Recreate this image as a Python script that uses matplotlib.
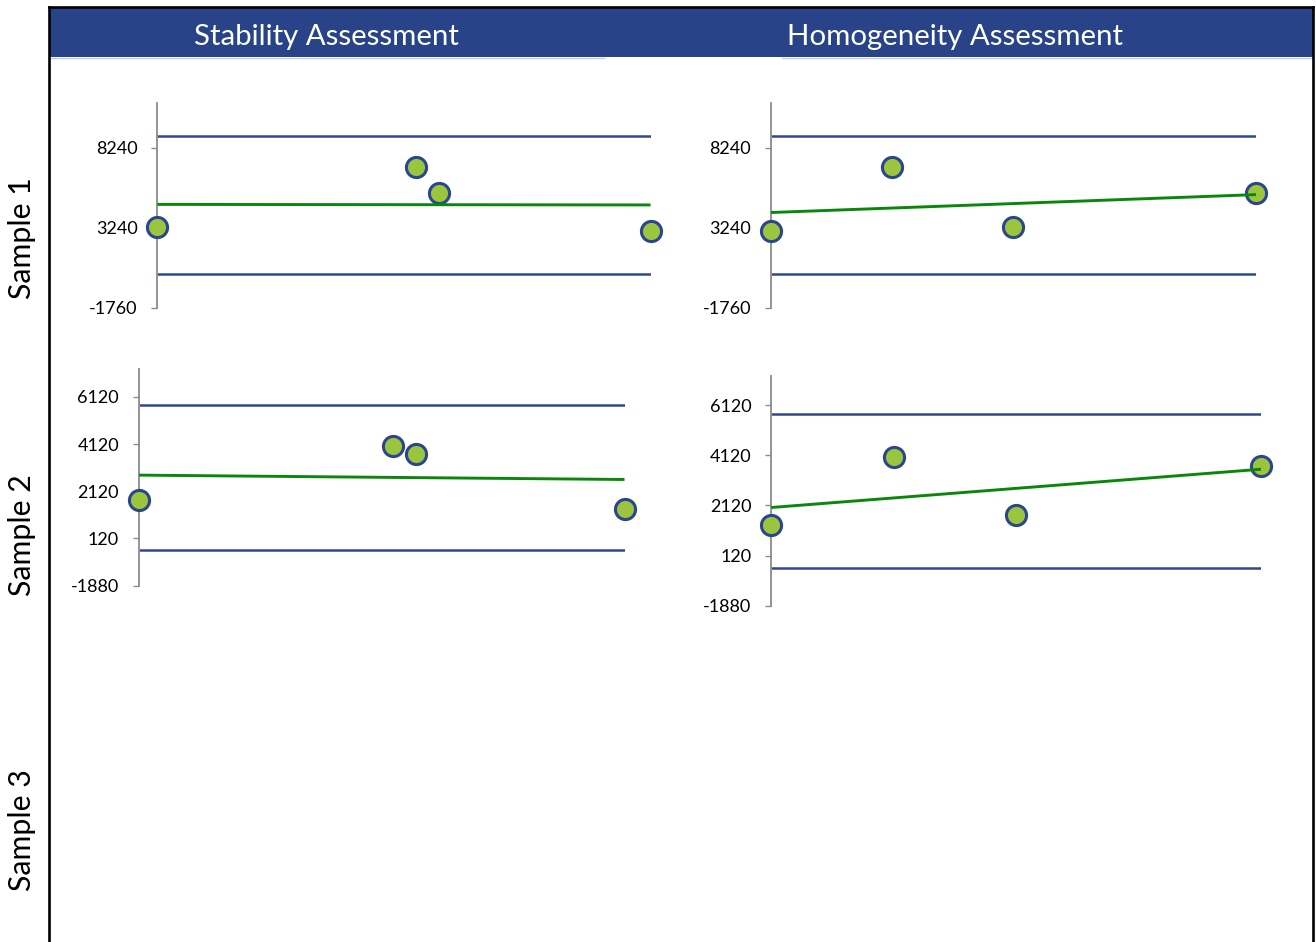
import matplotlib
matplotlib.use("Agg")
import matplotlib.pyplot as plt
import numpy as np
from matplotlib.lines import Line2D
from matplotlib.patches import Rectangle

# ---- data -------------------------------------------------------------
stability_x = [0, 11, 12, 21]
homogeneity_x = [0, 3, 6, 12]

sample1_stability = [3270, 7010, 5410, 3020]
sample1_homogeneity = [3020, 7010, 3270, 5410]
sample2_stability = [1745, 4035, 3690, 1355]
sample2_homogeneity = [1355, 4035, 1745, 3690]

sample1_limits = [360, 8960]      # lower, upper
sample2_limits = [-370, 5770]

sample1_ticks = [-1760, 3240, 8240]
sample2_ticks = [-1880, 120, 2120, 4120, 6120]
sample1_range = [-1760, 11050]
sample2_range = [-1880, 7285]

column_titles = ["Stability Assessment", "Homogeneity Assessment"]
row_titles = ["Sample 1", "Sample 2", "Sample 3"]

# ---- style ------------------------------------------------------------
NAVY = "#284387"
LIMIT = "#2c4992"
TREND = "#0a870a"
FILL = "#9bc53d"
EDGE = "#2b4590"
AXIS = "#8c8c8c"
FONT = "Lato"

W, H = 1316, 942
fig = plt.figure(figsize=(W / 100, H / 100), dpi=100)
fig.patch.set_facecolor("white")


def rect(l, t, r, b):
    return [l / W, 1 - b / H, (r - l) / W, (b - t) / H]


def fy(y):
    return 1 - y / H


# header band and frame
fig.patches.append(Rectangle((50 / W, fy(57)), (1313 - 50) / W, (57 - 8.3) / H,
                             transform=fig.transFigure, facecolor=NAVY,
                             edgecolor="none", zorder=1))
for x0, x1 in [(50, 604), (782, 1312)]:
    fig.lines.append(Line2D([x0 / W, x1 / W], [fy(57.6)] * 2, color="#c3cde2",
                            lw=1, transform=fig.transFigure))
frame = dict(color="black", lw=1.9, transform=fig.transFigure, zorder=5)
fig.lines.append(Line2D([49.3 / W, 1313 / W], [fy(7)] * 2, **frame))
fig.lines.append(Line2D([49.3 / W] * 2, [fy(7), 0], **frame))
fig.lines.append(Line2D([1313 / W] * 2, [fy(7), 0], **frame))

fig.text(326 / W, fy(45), column_titles[0], color="white", fontsize=21.2,
         family=FONT, ha="center", va="baseline")
fig.text(955 / W, fy(45), column_titles[1], color="white", fontsize=21.2,
         family=FONT, ha="center", va="baseline")

for label, yc in zip(row_titles, [238.5, 535, 830.5]):
    fig.text(22.5 / W, fy(yc), label, rotation=90, fontsize=21.8, family=FONT,
             ha="center", va="center", color="black")


def panel(box, x, y, limits, yrange, ticks):
    ax = fig.add_axes(box)
    ax.patch.set_visible(False)
    ax.set_xlim(x[0], x[-1])
    ax.set_ylim(*yrange)
    for side in ["top", "right", "bottom"]:
        ax.spines[side].set_visible(False)
    ax.spines["left"].set_color(AXIS)
    ax.spines["left"].set_linewidth(1.3)
    ax.set_xticks([])
    ax.set_yticks(ticks)
    ax.set_yticklabels([str(t) for t in ticks], family=FONT, fontsize=13)
    ax.tick_params(axis="y", length=4.3, width=1, color=AXIS, pad=10)

    ends = [x[0], x[-1]]
    for level in limits:
        ax.plot(ends, [level, level], color=LIMIT, lw=1.8,
                solid_capstyle="butt", zorder=2)
    coef = np.polyfit(x, y, 1)
    ax.plot(ends, np.polyval(coef, ends), color=TREND, lw=2.1,
            solid_capstyle="butt", zorder=4)
    ax.plot(x, y, "o", ms=14.5, mfc=FILL, mec=EDGE, mew=2.2,
            clip_on=False, zorder=3)
    return ax


panel(rect(157.4, 102.7, 650.5, 307.7), stability_x, sample1_stability,
      sample1_limits, sample1_range, sample1_ticks)
panel(rect(770.9, 102.7, 1256, 307.7), homogeneity_x, sample1_homogeneity,
      sample1_limits, sample1_range, sample1_ticks)
panel(rect(138.9, 369.3, 624.5, 585.7), stability_x, sample2_stability,
      sample2_limits, sample2_range, sample2_ticks)
panel(rect(771.3, 376, 1261, 605.7), homogeneity_x, sample2_homogeneity,
      sample2_limits, sample2_range, sample2_ticks)

fig.savefig("out.png", dpi=100, facecolor="white")
